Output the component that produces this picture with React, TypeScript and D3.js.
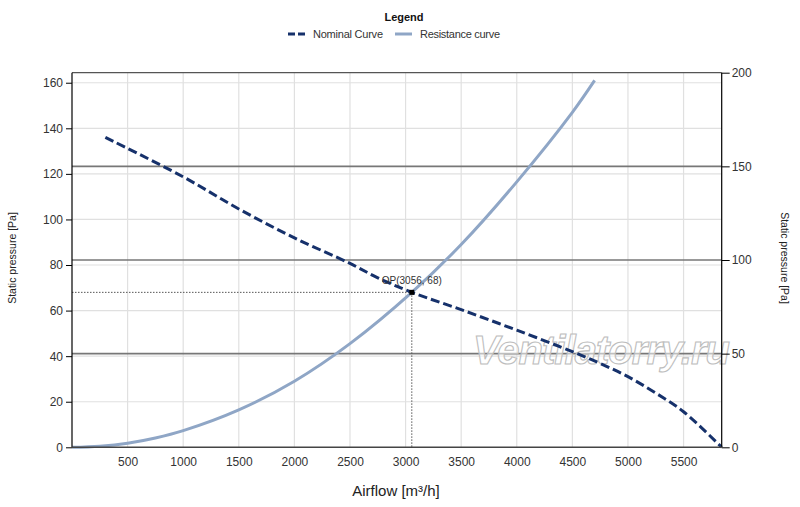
import React, { useEffect, useRef } from 'react';
import * as d3 from 'd3';

// Nominal fan curve
const nominalFlow = [300, 1000, 1500, 2000, 2500, 2750, 3056, 3500, 4000, 4500, 4750, 5000, 5250, 5500, 5843];
const nominalPressure = [136, 118.7, 104.6, 91.9, 80.7, 74.4, 68, 60.4, 51.4, 42, 36.8, 31, 23.8, 15.6, 0];

// Resistance curve of the system
const resistanceFlow = [0, 250, 500, 750, 1000, 1500, 2000, 2500, 3056, 3500, 4000, 4500, 4700];
const resistancePressure = [0, 0.5, 1.8, 4.1, 7.3, 16.4, 29, 45.5, 68, 89, 116.5, 147, 161];

const xTicks = [500, 1000, 1500, 2000, 2500, 3000, 3500, 4000, 4500, 5000, 5500];
const leftTicks = [0, 20, 40, 60, 80, 100, 120, 140, 160];
const rightTicks = [0, 50, 100, 150, 200];

const opPoint = { flow: 3056, pressure: 68 };

const App: React.FC = () => {
  const ref = useRef<SVGSVGElement>(null);

  useEffect(() => {
    if (!ref.current) return;
    const svg = d3.select(ref.current);
    svg.selectAll('*').remove();

    const left = 72, right = 721.7, top = 72.7, bottom = 447.3;
    const font = 'Liberation Sans, Arial, sans-serif';

    const x = d3.scaleLinear().domain([0, 5843]).range([left, right]);
    const yL = d3.scaleLinear().domain([0, 164.4]).range([bottom, top]);
    const yR = d3.scaleLinear().domain([0, 200]).range([bottom, top]);

    // light grid
    const grid = svg.append('g');
    grid.selectAll('line.v').data(xTicks).join('line')
      .attr('x1', d => x(d)).attr('x2', d => x(d))
      .attr('y1', top).attr('y2', bottom)
      .attr('stroke', '#e0e0e0').attr('stroke-width', 1.2);
    grid.selectAll('line.h').data(leftTicks.filter(d => d > 0)).join('line')
      .attr('x1', left).attr('x2', right)
      .attr('y1', d => yL(d)).attr('y2', d => yL(d))
      .attr('stroke', '#e0e0e0').attr('stroke-width', 1.2);

    // right axis major lines
    svg.append('g').selectAll('line').data(rightTicks.filter(d => d > 0 && d < 200)).join('line')
      .attr('x1', left).attr('x2', right)
      .attr('y1', d => yR(d)).attr('y2', d => yR(d))
      .attr('stroke', '#777').attr('stroke-width', 1.6);

    // top border
    svg.append('line').attr('x1', left).attr('x2', right).attr('y1', top).attr('y2', top)
      .attr('stroke', '#555').attr('stroke-width', 1.2);

    // watermark
    svg.append('text')
      .attr('x', 473).attr('y', 364)
      .attr('font-family', font).attr('font-style', 'italic').attr('font-weight', 'bold')
      .attr('font-size', 40)
      .attr('fill', 'white').attr('fill-opacity', 0.55)
      .attr('stroke', '#bdbdbd').attr('stroke-width', 1.1)
      .attr('textLength', 257)
      .text('Ventilatorry.ru');

    // operating point guides
    svg.append('line')
      .attr('x1', left).attr('x2', x(opPoint.flow))
      .attr('y1', yL(opPoint.pressure)).attr('y2', yL(opPoint.pressure))
      .attr('stroke', '#555').attr('stroke-width', 1).attr('stroke-dasharray', '1.5,1.5');
    svg.append('line')
      .attr('x1', x(opPoint.flow)).attr('x2', x(opPoint.flow))
      .attr('y1', yL(opPoint.pressure)).attr('y2', bottom)
      .attr('stroke', '#555').attr('stroke-width', 1).attr('stroke-dasharray', '1.5,1.5');

    const line = d3.line<[number, number]>()
      .x(d => x(d[0])).y(d => yL(d[1]))
      .curve(d3.curveCatmullRom);

    svg.append('path')
      .datum(resistanceFlow.map((f, i) => [f, resistancePressure[i]] as [number, number]))
      .attr('fill', 'none').attr('stroke', '#8fa6c6').attr('stroke-width', 3)
      .attr('d', line);

    svg.append('path')
      .datum(nominalFlow.map((f, i) => [f, nominalPressure[i]] as [number, number]))
      .attr('fill', 'none').attr('stroke', '#16316b').attr('stroke-width', 3)
      .attr('stroke-dasharray', '9,4')
      .attr('d', line);

    // operating point
    svg.append('rect')
      .attr('x', x(opPoint.flow) - 2.5).attr('y', yL(opPoint.pressure) - 2.5)
      .attr('width', 5).attr('height', 5).attr('fill', '#000');
    svg.append('text')
      .attr('x', x(opPoint.flow)).attr('y', yL(opPoint.pressure) - 8)
      .attr('text-anchor', 'middle')
      .attr('font-family', font).attr('font-size', 10).attr('fill', '#333')
      .text(`OP(${opPoint.flow}, ${opPoint.pressure})`);

    // axes
    const axisStyle = (g: d3.Selection<SVGGElement, unknown, null, undefined>) => {
      g.selectAll('text').attr('font-family', font).attr('font-size', 12).attr('fill', '#333');
    };

    const leftAxis = svg.append('g').attr('transform', `translate(${left},0)`)
      .call(d3.axisLeft(yL).tickValues(leftTicks).tickSize(6).tickPadding(3).tickFormat(d3.format('d')));
    leftAxis.select('.domain').attr('stroke', '#000').attr('stroke-width', 1.2)
      .attr('d', `M0,${top}V${bottom}`);
    axisStyle(leftAxis);

    const rightAxis = svg.append('g').attr('transform', `translate(${right},0)`)
      .call(d3.axisRight(yR).tickValues(rightTicks).tickSize(8).tickPadding(2).tickFormat(d3.format('d')));
    rightAxis.select('.domain').attr('stroke', '#000').attr('stroke-width', 1.2)
      .attr('d', `M0,${top}V${bottom}`);
    axisStyle(rightAxis);

    const bottomAxis = svg.append('g').attr('transform', `translate(0,${bottom})`)
      .call(d3.axisBottom(x).tickValues(xTicks).tickSize(0).tickPadding(10).tickFormat(d3.format('d')));
    bottomAxis.select('.domain').attr('stroke', '#444').attr('stroke-width', 1.6)
      .attr('d', `M${left},0H${right}`);
    axisStyle(bottomAxis);

    // titles
    svg.append('text').attr('x', 396).attr('y', 496).attr('text-anchor', 'middle')
      .attr('font-family', font).attr('font-size', 15).attr('fill', '#222')
      .text('Airflow [m³/h]');
    svg.append('text').attr('transform', 'translate(16,258) rotate(-90)')
      .attr('text-anchor', 'middle').attr('font-family', font).attr('font-size', 10.5).attr('fill', '#222')
      .text('Static pressure [Pa]');
    svg.append('text').attr('transform', 'translate(781,258) rotate(90)')
      .attr('text-anchor', 'middle').attr('font-family', font).attr('font-size', 10.5).attr('fill', '#222')
      .text('Static pressure [Pa]');

    // legend
    svg.append('text').attr('x', 404).attr('y', 21).attr('text-anchor', 'middle')
      .attr('font-family', font).attr('font-size', 11).attr('font-weight', 'bold').attr('fill', '#111')
      .text('Legend');
    const legend = svg.append('g');
    legend.append('line').attr('x1', 288).attr('x2', 305).attr('y1', 34).attr('y2', 34)
      .attr('stroke', '#16316b').attr('stroke-width', 3).attr('stroke-dasharray', '7,3');
    legend.append('text').attr('x', 313).attr('y', 38)
      .attr('font-family', font).attr('font-size', 11).attr('fill', '#333')
      .attr('textLength', 70).text('Nominal Curve');
    legend.append('line').attr('x1', 395).attr('x2', 412).attr('y1', 34).attr('y2', 34)
      .attr('stroke', '#8fa6c6').attr('stroke-width', 3);
    legend.append('text').attr('x', 420).attr('y', 38)
      .attr('font-family', font).attr('font-size', 11).attr('fill', '#333')
      .attr('textLength', 80).text('Resistance curve');
  }, []);

  return (
    <svg
      ref={ref}
      width={800}
      height={507}
      style={{ position: 'absolute', left: 0, top: 0, background: '#fff' }}
    />
  );
};

export default App;
